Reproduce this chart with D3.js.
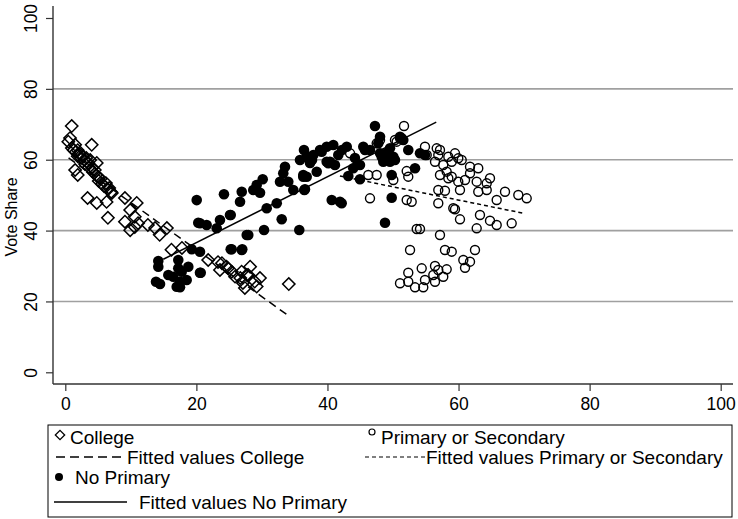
<!DOCTYPE html>
<html>
<head>
<meta charset="utf-8">
<script src="https://d3js.org/d3.v7.min.js"></script>
<style>
    body { margin: 0; background: #fff; }
    text { font-family: "Liberation Sans", Arial, sans-serif; fill: #000; }
    .grid { stroke: #a0a0a0; stroke-width: 1.6px; }
    .axisline { stroke: #333; stroke-width: 1.4px; }
</style>
</head>
<body>
<script>
// College (hollow diamonds): [education share, vote share]
var college = [
    [0.98,69.5],[0.46,65.1],[0.72,66.1],[4.03,64.2],[1.0,63.3],[1.3,62.7],[1.5,64.2],[1.6,62.2],
    [1.9,62.7],[1.9,61.0],[2.2,61.6],[2.4,60.5],[2.7,61.0],[2.9,59.9],[3.2,60.5],[3.0,58.8],
    [3.5,59.1],[3.6,57.9],[3.8,59.9],[4.1,57.7],[4.2,56.5],[4.5,57.1],[4.7,55.7],[5.0,55.1],
    [5.1,54.0],[5.4,54.6],[5.6,53.2],[5.9,52.6],[6.2,53.4],[6.4,51.8],[6.7,52.0],[7.0,50.9],
    [4.8,59.1],[1.5,57.1],[1.9,55.7],[3.4,49.2],[4.8,47.8],[6.3,48.1],[7.1,50.6],[9.1,49.2],
    [10.9,47.8],[9.9,45.8],[6.5,43.6],[9.1,42.5],[10.6,43.9],[11.1,42.1],[12.6,41.6],[13.7,40.7],
    [14.4,38.8],[15.5,40.7],[9.9,40.1],[10.6,41.0],[16.2,34.6],[17.8,35.1],[21.8,31.7],[23.3,31.1],
    [23.6,28.9],[24.6,29.8],[25.4,28.4],[25.9,27.0],[26.9,28.4],[27.1,25.2],[27.7,27.5],[27.4,23.8],
    [23.9,30.8],[24.8,29.4],[26.7,26.6],[28.2,29.8],[27.9,27.5],[28.9,25.6],[29.7,26.6],[29.2,24.2],
    [34.1,24.9]
];

// No Primary (filled circles)
var noPrimary = [
    [20.05,48.6],[26.66,48.15],[20.55,42.05],[21.57,41.57],[23.6,42.99],[25.13,44.4],[23.1,40.64],
    [27.68,38.75],[25.39,34.72],[26.92,34.52],[19.29,34.72],[20.55,34.04],[14.19,31.41],[14.19,29.81],
    [17.24,31.7],[17.24,29.35],[18.77,29.81],[15.72,27.46],[16.48,26.98],[17.76,28.39],[20.55,28.11],
    [18.52,26.05],[17.5,25.57],[13.84,25.57],[14.45,24.92],[17.0,24.16],[17.5,23.99],[24.21,50.24],
    [26.92,50.97],[28.68,51.45],[29.2,52.86],[30.12,54.47],[29.71,50.69],[33.52,58.03],[33.26,56.17],
    [32.76,53.8],[34.02,53.8],[34.79,51.45],[36.31,55.21],[36.47,51.45],[38.36,56.62],[36.83,60.85],
    [37.84,61.33],[39.12,62.26],[40.13,58.99],[40.65,48.63],[41.91,48.15],[32.26,47.7],[30.73,46.29],
    [33.02,43.18],[30.32,40.16],[35.7,40.16],[27.92,38.75],[25.24,44.4],[20.29,42.22],[25.24,34.72],
    [27.0,34.72],[20.66,28.11],[47.25,69.52],[36.57,51.65],[42.17,47.7],[49.8,49.28],[44.96,54.47],
    [43.18,55.4],[43.94,57.58],[49.8,55.69],[53.36,57.58],[37.34,59.07],[36.83,55.21],[36.31,55.69],
    [39.88,63.68],[40.89,64.16],[42.94,63.68],[41.65,61.33],[40.39,59.44],[39.88,59.44],[45.73,62.74],
    [45.47,63.68],[48.02,66.5],[47.76,64.63],[48.02,61.81],[48.52,59.44],[49.54,63.22],[50.05,60.85],
    [51.07,66.5],[51.57,65.57],[52.33,62.74],[54.12,61.81],[54.88,61.33],[51.33,66.05],[49.04,61.81],
    [48.28,60.85],[49.54,59.44],[50.3,59.92],[48.78,42.22],[35.81,59.92],[36.42,62.74],[37.64,59.92],
    [38.86,62.74],[41.14,58.52],[42.21,62.74],[44.19,60.47],[44.96,58.52],[46.49,62.74]
];

// Primary or Secondary (hollow circles)
var primSec = [
    [51.68,69.52],[48.02,65.57],[47.51,64.63],[51.07,66.05],[50.56,65.09],[43.45,61.81],[46.23,55.69],
    [47.51,55.69],[50.05,54.28],[52.09,56.8],[52.33,55.21],[46.49,49.11],[52.09,48.63],[52.85,48.15],
    [56.91,51.45],[57.93,51.25],[56.91,47.7],[54.88,63.68],[56.67,63.22],[55.14,61.33],[57.17,55.69],
    [58.19,56.62],[50.3,65.57],[57.17,62.74],[56.91,61.33],[56.41,59.44],[58.44,60.85],[59.46,61.81],
    [59.96,60.4],[60.48,59.92],[57.67,58.52],[58.96,59.44],[61.75,58.03],[63.01,57.58],[61.75,56.17],
    [58.44,54.76],[58.96,55.21],[59.96,53.8],[60.99,54.28],[62.77,53.8],[64.3,53.34],[64.8,54.76],
    [60.22,51.45],[63.01,50.97],[64.3,51.45],[67.09,50.97],[69.12,50.04],[70.4,49.11],[65.82,48.63],
    [59.46,46.01],[60.22,43.18],[63.27,44.4],[64.8,42.79],[65.82,41.57],[68.11,42.05],[62.77,40.64],
    [53.62,40.45],[54.12,40.45],[59.2,46.29],[57.17,38.75],[52.6,34.52],[57.93,34.52],[58.96,34.04],
    [62.51,34.52],[60.73,31.7],[61.75,31.22],[60.99,29.52],[52.33,28.11],[54.38,29.35],[56.41,30.0],
    [56.91,28.87],[58.19,29.07],[51.07,25.12],[52.33,25.57],[53.36,23.99],[54.62,23.99],[54.88,26.05],
    [56.15,27.46],[56.41,25.57],[57.67,26.98]
];

// fitted lines, endpoints
var fitCollege = [[0.5,60.5],[34.1,15.9]];
var fitNoPrimary = [[14.95,31.9],[56.6,70.6]];
var fitPrimSec = [[41.9,55.4],[69.9,44.9]];

var xTicks = [0, 20, 40, 60, 80, 100];
var yTicks = [0, 20, 40, 60, 80, 100];
var yGrid = [20, 40, 60, 80];

var width = 738, height = 519;

var svg = d3.select("body").append("svg")
    .attr("width", width)
    .attr("height", height);

var x = d3.scaleLinear().domain([0, 100]).range([65.3, 720.7]);
var y = d3.scaleLinear().domain([0, 100]).range([372.3, 18]);

var axisX = 53, axisY = 384;

// grid
svg.selectAll(".grid")
    .data(yGrid)
    .enter().append("line")
    .attr("class", "grid")
    .attr("x1", axisX).attr("x2", 733)
    .attr("y1", function(d) { return y(d); })
    .attr("y2", function(d) { return y(d); });

// axes
var gx = svg.append("g")
    .attr("transform", "translate(0," + axisY + ")")
    .call(d3.axisBottom(x).tickValues(xTicks).tickSize(7).tickPadding(7));
gx.select(".domain").remove();
gx.append("line").attr("class", "axisline").attr("x1", axisX).attr("x2", 733);
gx.selectAll(".tick line").attr("stroke", "#333").attr("stroke-width", 1.2);
gx.selectAll(".tick text")
    .style("font-family", "'Liberation Sans', Arial, sans-serif")
    .style("font-size", "17.5px")
    .attr("fill", "#000");

var gy = svg.append("g")
    .attr("transform", "translate(" + axisX + ",0)")
    .call(d3.axisLeft(y).tickValues(yTicks).tickSize(7).tickFormat(d3.format("d")));
gy.select(".domain").remove();
gy.append("line").attr("class", "axisline").attr("y1", 6).attr("y2", axisY);
gy.selectAll(".tick line").attr("stroke", "#333").attr("stroke-width", 1.2);
gy.selectAll(".tick text")
    .attr("x", 0).attr("dy", 0)
    .attr("transform", "translate(-16.5,0) rotate(-90)")
    .attr("text-anchor", "middle")
    .style("font-family", "'Liberation Sans', Arial, sans-serif")
    .style("font-size", "17.5px")
    .attr("fill", "#000");

svg.append("text")
    .attr("transform", "translate(17,217) rotate(-90)")
    .attr("text-anchor", "middle")
    .style("font-size", "16px")
    .text("Vote Share");

// fitted lines
var line = d3.line()
    .x(function(d) { return x(d[0]); })
    .y(function(d) { return y(d[1]); });

svg.append("path").datum(fitCollege)
    .attr("d", line).attr("fill", "none").attr("stroke", "#000")
    .attr("stroke-width", 1.5).attr("stroke-dasharray", "8,5");
svg.append("path").datum(fitPrimSec)
    .attr("d", line).attr("fill", "none").attr("stroke", "#000")
    .attr("stroke-width", 1.5).attr("stroke-dasharray", "4,3");
svg.append("path").datum(fitNoPrimary)
    .attr("d", line).attr("fill", "none").attr("stroke", "#000")
    .attr("stroke-width", 1.5);

// markers
var diamond = d3.symbol().type(d3.symbolSquare).size(76);

svg.append("g").selectAll("path")
    .data(college)
    .enter().append("path")
    .attr("d", diamond)
    .attr("transform", function(d) { return "translate(" + x(d[0]) + "," + y(d[1]) + ") rotate(45)"; })
    .attr("fill", "none").attr("stroke", "#000").attr("stroke-width", 1.5);

svg.append("g").selectAll("circle")
    .data(noPrimary)
    .enter().append("circle")
    .attr("cx", function(d) { return x(d[0]); })
    .attr("cy", function(d) { return y(d[1]); })
    .attr("r", 5.3)
    .attr("fill", "#000");

svg.append("g").selectAll("circle")
    .data(primSec)
    .enter().append("circle")
    .attr("cx", function(d) { return x(d[0]); })
    .attr("cy", function(d) { return y(d[1]); })
    .attr("r", 4.5)
    .attr("fill", "none").attr("stroke", "#000").attr("stroke-width", 1.4);

// legend
var lg = svg.append("g");
lg.append("rect")
    .attr("x", 48).attr("y", 425).attr("width", 684).attr("height", 92)
    .attr("fill", "#fff").attr("stroke", "#000").attr("stroke-width", 1);

var fs = "19px";
lg.append("path").attr("d", d3.symbol().type(d3.symbolSquare).size(44))
    .attr("transform", "translate(60,435) rotate(45)")
    .attr("fill", "none").attr("stroke", "#000").attr("stroke-width", 1.3);
lg.append("text").attr("x", 70).attr("y", 444).style("font-size", fs).text("College");

lg.append("line").attr("x1", 56).attr("x2", 125).attr("y1", 457).attr("y2", 457)
    .attr("stroke", "#000").attr("stroke-width", 1.4).attr("stroke-dasharray", "9,5");
lg.append("text").attr("x", 127).attr("y", 464).style("font-size", fs).text("Fitted values College");

lg.append("circle").attr("cx", 59).attr("cy", 477).attr("r", 4).attr("fill", "#000");
lg.append("text").attr("x", 75).attr("y", 484).style("font-size", fs).text("No Primary");

lg.append("line").attr("x1", 54).attr("x2", 127).attr("y1", 502).attr("y2", 502)
    .attr("stroke", "#000").attr("stroke-width", 1.4);
lg.append("text").attr("x", 139).attr("y", 509).style("font-size", fs).text("Fitted values No Primary");

lg.append("circle").attr("cx", 372).attr("cy", 432).attr("r", 3)
    .attr("fill", "none").attr("stroke", "#000").attr("stroke-width", 1.2);
lg.append("text").attr("x", 381).attr("y", 444).style("font-size", fs).text("Primary or Secondary");

lg.append("line").attr("x1", 365).attr("x2", 425).attr("y1", 457).attr("y2", 457)
    .attr("stroke", "#000").attr("stroke-width", 1.2).attr("stroke-dasharray", "4,3");
lg.append("text").attr("x", 426).attr("y", 464).style("font-size", fs).text("Fitted values Primary or Secondary");
</script>
</body>
</html>
